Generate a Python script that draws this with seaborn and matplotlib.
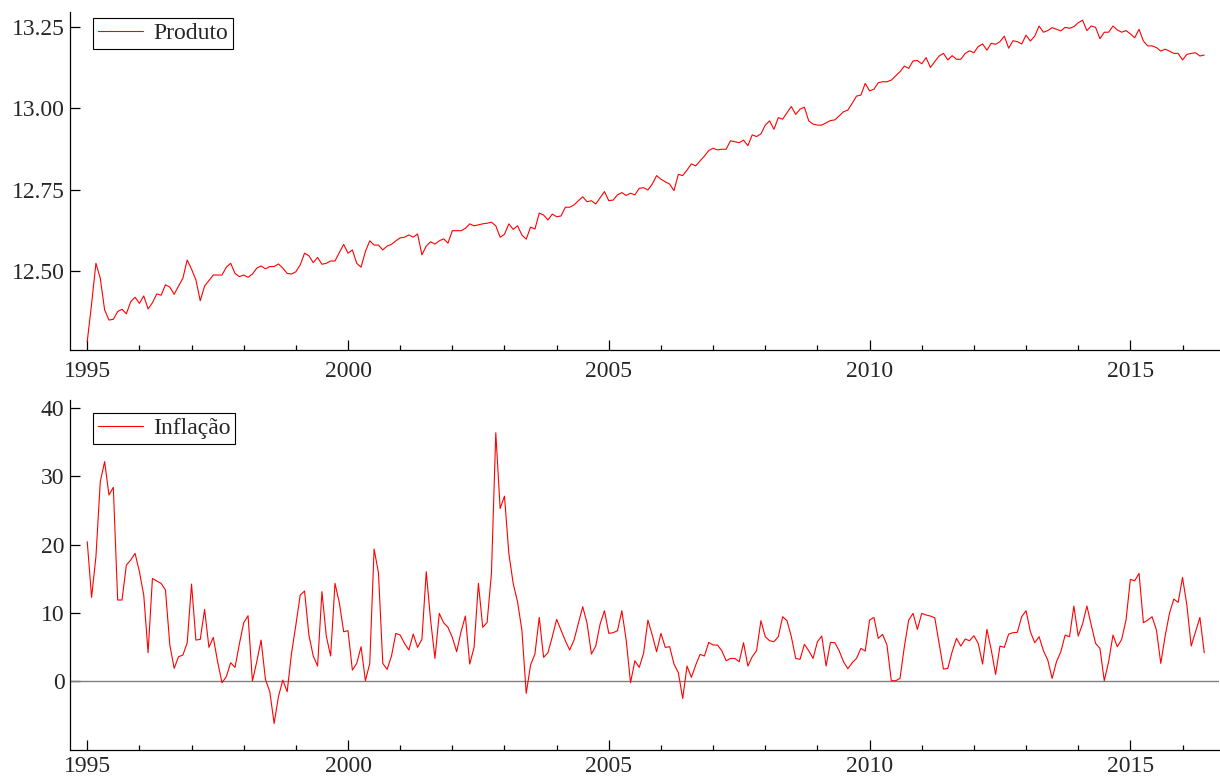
import numpy as np
import pandas as pd
import matplotlib
matplotlib.use("Agg")
import matplotlib.pyplot as plt
from matplotlib.ticker import FixedLocator, MultipleLocator, FormatStrFormatter
import seaborn as sns

# Monthly series, January 1995 onwards
start_year = 1995

produto = [
    12.285, 12.400, 12.525, 12.479, 12.382, 12.351, 12.353, 12.377, 12.384, 12.370, 12.407, 12.421,
    12.402, 12.425, 12.385, 12.404, 12.431, 12.427, 12.459, 12.452, 12.430, 12.455, 12.479, 12.535,
    12.507, 12.474, 12.410, 12.455, 12.472, 12.489, 12.489, 12.489, 12.513, 12.525, 12.494, 12.484,
    12.489, 12.482, 12.492, 12.510, 12.517, 12.508, 12.515, 12.515, 12.523, 12.510, 12.494, 12.492,
    12.499, 12.520, 12.556, 12.548, 12.527, 12.543, 12.522, 12.525, 12.532, 12.532, 12.558, 12.583,
    12.556, 12.566, 12.525, 12.513, 12.561, 12.594, 12.581, 12.581, 12.566, 12.578, 12.583, 12.594,
    12.603, 12.605, 12.612, 12.605, 12.615, 12.551, 12.578, 12.591, 12.584, 12.594, 12.600, 12.587,
    12.625, 12.625, 12.625, 12.632, 12.646, 12.640, 12.643, 12.646, 12.648, 12.651, 12.640, 12.605,
    12.614, 12.646, 12.629, 12.640, 12.612, 12.599, 12.636, 12.630, 12.679, 12.673, 12.658, 12.676,
    12.668, 12.670, 12.697, 12.697, 12.704, 12.717, 12.729, 12.714, 12.717, 12.707, 12.726, 12.745,
    12.717, 12.719, 12.735, 12.742, 12.733, 12.740, 12.735, 12.755, 12.757, 12.750, 12.768, 12.794,
    12.783, 12.775, 12.768, 12.748, 12.798, 12.794, 12.811, 12.830, 12.824, 12.839, 12.854, 12.871,
    12.878, 12.873, 12.875, 12.875, 12.901, 12.898, 12.895, 12.903, 12.886, 12.919, 12.914, 12.922,
    12.949, 12.962, 12.936, 12.972, 12.967, 12.987, 13.006, 12.982, 12.998, 13.004, 12.962, 12.952,
    12.949, 12.949, 12.956, 12.963, 12.965, 12.977, 12.990, 12.995, 13.016, 13.038, 13.041, 13.077,
    13.054, 13.059, 13.079, 13.082, 13.082, 13.087, 13.100, 13.113, 13.130, 13.123, 13.146, 13.147,
    13.137, 13.156, 13.126, 13.144, 13.161, 13.169, 13.149, 13.162, 13.151, 13.151, 13.169, 13.177,
    13.171, 13.190, 13.198, 13.179, 13.200, 13.197, 13.205, 13.222, 13.185, 13.208, 13.205, 13.198,
    13.225, 13.207, 13.222, 13.253, 13.234, 13.239, 13.248, 13.243, 13.238, 13.249, 13.246, 13.251,
    13.263, 13.271, 13.239, 13.253, 13.249, 13.214, 13.234, 13.234, 13.253, 13.241, 13.234, 13.239,
    13.229, 13.217, 13.243, 13.207, 13.192, 13.192, 13.187, 13.176, 13.182, 13.176, 13.169, 13.169,
    13.149, 13.166, 13.169, 13.171, 13.161, 13.164,
]

inflacao = [
    20.43, 12.27, 18.23, 29.23, 32.16, 27.27, 28.40, 11.88, 11.88, 17.00, 17.74, 18.72,
    16.03, 12.61, 4.16, 15.05, 14.66, 14.32, 13.34, 5.28, 1.86, 3.57, 3.81, 5.62,
    14.22, 6.01, 6.11, 10.51, 4.94, 6.40, 2.83, -0.24, 0.64, 2.69, 2.00, 5.43,
    8.55, 9.58, 0.00, 2.83, 6.01, 0.24, -1.56, -6.21, -2.25, 0.15, -1.56, 4.06,
    8.21, 12.61, 13.20, 6.74, 3.67, 2.20, 13.10, 6.60, 3.67, 14.32, 11.48, 7.23,
    7.38, 1.61, 2.59, 5.03, 0.05, 2.59, 19.35, 15.88, 2.59, 1.71, 3.67, 6.99,
    6.74, 5.52, 4.55, 6.89, 4.94, 6.11, 16.03, 8.94, 3.32, 9.92, 8.55, 7.87,
    6.40, 4.30, 7.23, 9.53, 2.49, 4.94, 14.32, 7.87, 8.60, 15.79, 36.40, 25.30,
    27.10, 18.70, 14.32, 11.63, 7.48, -1.80, 2.35, 3.96, 9.33, 3.47, 4.15, 6.50,
    9.04, 7.48, 5.91, 4.55, 6.01, 8.46, 10.90, 8.46, 3.96, 5.13, 8.36, 10.31,
    6.99, 7.09, 7.38, 10.31, 6.01, -0.24, 2.98, 2.00, 4.06, 8.94, 6.74, 4.30,
    6.99, 4.94, 5.04, 2.49, 1.22, -2.54, 2.20, 0.54, 2.35, 3.91, 3.67, 5.67,
    5.28, 5.28, 4.45, 2.98, 3.32, 3.32, 2.83, 5.62, 2.20, 3.57, 4.45, 8.85,
    6.50, 5.91, 5.77, 6.50, 9.43, 8.85, 6.50, 3.32, 3.18, 5.38, 4.45, 3.32,
    5.77, 6.60, 2.20, 5.67, 5.62, 4.45, 2.83, 1.81, 2.69, 3.32, 4.79, 4.40,
    8.94, 9.33, 6.26, 6.84, 5.28, 0.05, 0.05, 0.39, 5.03, 8.94, 9.92, 7.58,
    9.92, 9.68, 9.53, 9.28, 5.52, 1.76, 1.86, 4.30, 6.26, 5.13, 6.16, 5.91,
    6.65, 5.52, 2.49, 7.58, 4.55, 0.98, 5.13, 4.94, 6.89, 7.09, 7.14, 9.43,
    10.31, 7.23, 5.62, 6.50, 4.45, 3.08, 0.39, 2.83, 4.30, 6.74, 6.50, 11.00,
    6.60, 8.36, 11.00, 8.21, 5.52, 4.79, 0.05, 2.83, 6.74, 5.03, 6.11, 8.94,
    14.90, 14.70, 15.79, 8.55, 8.94, 9.43, 7.48, 2.59, 6.60, 9.92, 12.02, 11.53,
    15.20, 11.14, 5.13, 7.23, 9.33, 4.15,
]

produto_ticks = [12.50, 12.75, 13.00, 13.25]
inflacao_ticks = [0, 10, 20, 30, 40]
ano_ticks = [1995, 2000, 2005, 2010, 2015]

n = len(produto)
anos = start_year + np.arange(n) / 12.0
df = pd.DataFrame({"ano": anos, "Produto": produto, "Inflação": inflacao})

sns.set_style("ticks")
plt.rcParams["font.family"] = ["Liberation Serif", "DejaVu Serif"]
plt.rcParams["axes.linewidth"] = 0.9
plt.rcParams["axes.edgecolor"] = "black"

fig = plt.figure(figsize=(12.2, 7.8), dpi=100)
ax1 = fig.add_axes([0.0574, 0.5513, 0.9418, 0.4333])
ax2 = fig.add_axes([0.0574, 0.0385, 0.9418, 0.4487])

ax2.axhline(0, color="#808080", lw=1.0, zorder=1)

sns.lineplot(data=df, x="ano", y="Produto", ax=ax1, color="red", lw=0.8,
             label="Produto", zorder=3)
sns.lineplot(data=df, x="ano", y="Inflação", ax=ax2, color="red", lw=0.8,
             label="Inflação", zorder=3)

ax1.set_ylim(12.259, 13.296)
ax2.set_ylim(-10.1, 41.2)

for ax, yt, fmt, anchor, xpad in (
    (ax1, produto_ticks, "%.2f", (0.02, 0.982), 8),
    (ax2, inflacao_ticks, "%d", (0.02, 0.963), 4),
):
    ax.set_xlim(1994.67, 2016.7)
    ax.xaxis.set_major_locator(FixedLocator(ano_ticks))
    ax.xaxis.set_minor_locator(MultipleLocator(1))
    ax.yaxis.set_major_locator(FixedLocator(yt))
    ax.yaxis.set_major_formatter(FormatStrFormatter(fmt))
    ax.set_xlabel("")
    ax.set_ylabel("")
    for side in ("top", "right"):
        ax.spines[side].set_visible(False)
    ax.tick_params(axis="both", which="major", direction="in", length=7,
                   width=0.9, labelsize=17, color="black")
    ax.tick_params(axis="x", which="minor", direction="in", length=3.5,
                   width=0.9, color="black")
    ax.tick_params(axis="x", which="major", pad=xpad)
    ax.tick_params(axis="y", which="major", pad=4)
    ax.grid(False)
    leg = ax.legend(loc="upper left", bbox_to_anchor=anchor, borderaxespad=0,
                    frameon=True, fancybox=False, framealpha=1,
                    edgecolor="black", fontsize=17, borderpad=0.2,
                    handlelength=1.9, handletextpad=0.45)
    leg.get_frame().set_linewidth(0.8)
    for h in leg.get_lines():
        h.set_linewidth(0.8)

fig.savefig("out.png", dpi=100)
